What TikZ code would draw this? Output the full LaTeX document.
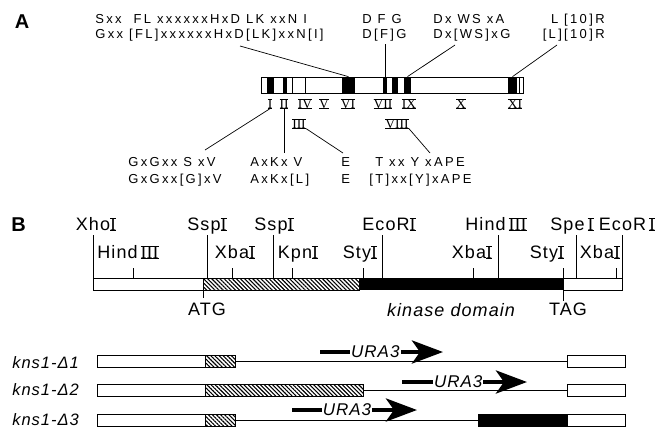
\documentclass[tikz,border=0pt]{standalone}
\usepackage{fontspec}
\setmainfont{Liberation Sans}[LetterSpace=6]
\newfontfamily\seqfont{Liberation Sans}[LetterSpace=18]
\newfontfamily\numfont{Liberation Serif}
\usetikzlibrary{arrows.meta,patterns.meta}
\newcommand\rn[1]{{\numfont\setbox0\hbox{#1}\rlap{\rule[-0.3pt]{\wd0}{0.8pt}}\rlap{\rule[\dimexpr\ht0-0.5pt\relax]{\wd0}{0.8pt}}\box0}}
\newcommand\bgap{\hspace*{0.46em}}

\begin{document}
\begin{tikzpicture}[x=1pt,y=-1pt,>=Latex,line width=0.7pt,
  panel/.style={font=\bfseries\fontsize{20}{22}\selectfont,inner sep=0pt,anchor=base},
  seq/.style={font=\seqfont\fontsize{13}{15}\selectfont,inner sep=0pt,anchor=base west},
  num/.style={font=\fontsize{13.5}{15}\selectfont,inner sep=0pt,anchor=base},
  blk/.style={fill=black,inner sep=0pt,minimum height=16pt},
  site/.style={font=\fontsize{18}{20}\selectfont,inner sep=0pt,anchor=base},
  strain/.style={font=\itshape\fontsize{16.5}{18}\selectfont,inner sep=0pt,anchor=base west},
  box/.style={draw,inner sep=0pt,minimum height=12pt},
  hatch/.style={pattern={Lines[angle=-45,distance=2.9pt,line width=1.1pt]}},
  ura/.style={line width=4.5pt,-{Stealth[length=31pt,width=23pt,inset=8pt]}},
  ulabel/.style={fill=white,inner sep=1pt,font=\itshape\fontsize{17}{18}\selectfont}
]
  \useasboundingbox (0,0) rectangle (659,432);

  \node[panel] (labA) at (22,28) {A};
  \node[seq] (s6a) at (95,23) {Sxx \bgap FL\bgap xxxxxxHxD\bgap LK\bgap xxN\bgap I};
  \node[seq] (s6b) at (95,38) {Gxx [FL]xxxxxxHxD[LK]xxN[I]};
  \node[seq] (s7a) at (362,23) {D\bgap F\bgap G};
  \node[seq] (s7b) at (362,38) {D[F]G};
  \node[seq] (s9a) at (433,23) {Dx\bgap WS\bgap xA};
  \node[seq] (s9b) at (433,38) {Dx[WS]xG};
  \node[seq,anchor=base east] (s11a) at (605,23) {\bgap L\bgap [10]R};
  \node[seq,anchor=base east] (s11b) at (605,38) {[L][10]R};

  \node[draw,inner sep=0pt,minimum width=262pt,minimum height=16pt] (barA) at (392,85) {};
  \draw (292,77) -- (292,93) (305,77) -- (305,93) (519,77) -- (519,93);
  \node[blk,minimum width=7pt] (b1) at (270.5,85) {};
  \node[blk,minimum width=4pt] (b2) at (285,85) {};
  \node[blk,minimum width=13pt] (b6) at (348.5,85) {};
  \node[blk,minimum width=4pt] (b7) at (385,85) {};
  \node[blk,minimum width=6pt] (b8) at (395,85) {};
  \node[blk,minimum width=7pt] (b9) at (407.5,85) {};
  \node[blk,minimum width=9pt] (b11) at (512.5,85) {};

  \node[num] (n1) at (270,108) {\rn{I}};
  \node[num] (n2) at (284,108) {\rn{II}};
  \node[num] (n4) at (305,108) {\rn{IV}};
  \node[num] (n5) at (324,108) {\rn{V}};
  \node[num] (n6) at (348,108) {\rn{VI}};
  \node[num] (n7) at (383,108) {\rn{VII}};
  \node[num] (n9) at (409,108) {\rn{IX}};
  \node[num] (n10) at (461,108) {\rn{X}};
  \node[num] (n11) at (515,108) {\rn{XI}};
  \node[num] (n3) at (299,128) {\rn{III}};
  \node[num] (n8) at (397,128) {\rn{VIII}};

  \node[seq] (s1a) at (128,166) {GxGxx\bgap S\bgap xV};
  \node[seq] (s1b) at (128,183) {GxGxx[G]xV};
  \node[seq] (s2a) at (250,166) {AxKx\bgap V};
  \node[seq] (s2b) at (250,183) {AxKx[L]};
  \node[seq] (s3a) at (341,166) {E};
  \node[seq] (s3b) at (341,183) {E};
  \node[seq] (s8a) at (369,166) {\bgap T\bgap xx\bgap Y\bgap xAPE};
  \node[seq] (s8b) at (369,183) {[T]xx[Y]xAPE};

  \coordinate (c6) at (240,46);
  \coordinate (c7) at (385,44);
  \coordinate (c9) at (455,45);
  \coordinate (c11) at (557,45);
  \coordinate (c1) at (205,150);
  \coordinate (c2) at (284,153);
  \coordinate (c3) at (343,153);
  \coordinate (c8) at (430,153);
  \draw (c6) -- (b6.north);
  \draw (c7) -- (b7.north);
  \draw (c9) -- (b9.north);
  \draw (c11) -- (b11.north);
  \draw (n1.south) -- (c1);
  \draw (n2.south) -- (c2);
  \draw (n3.south east) -- (c3);
  \draw (n8.south east) -- (c8);

  \node[panel] (labB) at (18.5,231) {B};
  \draw (93,278) rectangle (203,290);
  \draw[hatch] (203,278) rectangle (359,290);
  \fill (359,278) rectangle (563,290);
  \draw (563,278) rectangle (622,290);

  \coordinate (kXho) at (93,278);
  \coordinate (kHin1) at (133,278);
  \coordinate (kSsp1) at (207,278);
  \coordinate (kXba1) at (232,278);
  \coordinate (kSsp2) at (273,278);
  \coordinate (kKpn) at (292,278);
  \coordinate (kSty1) at (363,278);
  \coordinate (kEco1) at (382,278);
  \coordinate (kXba2) at (473,278);
  \coordinate (kHin2) at (498,278);
  \coordinate (kSty2) at (563,278);
  \coordinate (kSpe) at (576,278);
  \coordinate (kXba3) at (616,278);
  \coordinate (kEco2) at (622,278);
  \draw (kXho) -- ++(0,-43) (kSsp1) -- ++(0,-43) (kSsp2) -- ++(0,-43) (kEco1) -- ++(0,-43)
        (kHin2) -- ++(0,-43) (kSpe) -- ++(0,-43) (kEco2) -- ++(0,-43);
  \draw (kHin1) -- ++(0,-10) (kXba1) -- ++(0,-10) (kKpn) -- ++(0,-10) (kSty1) -- ++(0,-10)
        (kXba2) -- ++(0,-10) (kSty2) -- ++(0,-10) (kXba3) -- ++(0,-10);

  \node[site] (xho) at (96,230) {Xho\rn{I}};
  \node[site] (ssp1) at (207,230) {Ssp\rn{I}};
  \node[site] (ssp2) at (274,230) {Ssp\rn{I}};
  \node[site] (eco1) at (389,230) {EcoR\rn{I}};
  \node[site] (hin2) at (496,230) {Hind\,\rn{III}};
  \node[site] (spe) at (572,230) {Spe\,\rn{I}};
  \node[site] (eco2) at (627,230) {EcoR\,\rn{I}};
  \node[site] (hin1) at (128,258) {Hind\,\rn{III}};
  \node[site] (xba1) at (235,258) {Xba\rn{I}};
  \node[site] (kpn) at (298,258) {Kpn\rn{I}};
  \node[site] (sty1) at (360,258) {Sty\rn{I}};
  \node[site] (xba2) at (472,258) {Xba\rn{I}};
  \node[site] (sty2) at (547,258) {Sty\rn{I}};
  \node[site] (xba3) at (600,258) {Xba\rn{I}};

  \coordinate (kAtg) at (203,290);
  \coordinate (kTag) at (563,290);
  \draw (kAtg) -- ++(0,8) (kTag) -- ++(0,11);
  \node[site] (atg) at (207,315) {ATG};
  \node[site,font=\itshape\fontsize{18}{20}\selectfont] (kin) at (451,316) {kinase domain};
  \node[site] (tag) at (568,315) {TAG};

  \node[strain] (d1) at (12,368) {kns1-Δ1};
  \node[strain] (d2) at (12,395) {kns1-Δ2};
  \node[strain] (d3) at (12,425) {kns1-Δ3};

  \node[box,minimum width=108pt] (d1a) at (151,361) {};
  \node[box,minimum width=30pt,hatch] (d1b) at (220,361) {};
  \node[box,minimum width=58pt] (d1c) at (596,361) {};
  \draw (d1b.east) -- (d1c.west);

  \node[box,minimum width=108pt] (d2a) at (151,390) {};
  \node[box,minimum width=158pt,hatch] (d2b) at (284,390) {};
  \node[box,minimum width=58pt] (d2c) at (596,390) {};
  \draw (d2b.east) -- (d2c.west);

  \node[box,minimum width=108pt] (d3a) at (151,420) {};
  \node[box,minimum width=30pt,hatch] (d3b) at (220,420) {};
  \node[box,minimum width=89pt,fill=black] (d3k) at (522.5,420) {};
  \node[box,minimum width=58pt] (d3c) at (596,420) {};
  \draw (d3b.east) -- (d3k.west);

  \coordinate (u1s) at (320,352);
  \coordinate (u1e) at (443,352);
  \coordinate (u2s) at (402,382);
  \coordinate (u2e) at (527,382);
  \coordinate (u3s) at (292,410);
  \coordinate (u3e) at (417,410);
  \draw[ura] (u1s) -- (u1e) node[pos=0.45,ulabel] {URA3};
  \draw[ura] (u2s) -- (u2e) node[pos=0.45,ulabel] {URA3};
  \draw[ura] (u3s) -- (u3e) node[pos=0.44,ulabel] {URA3};
\end{tikzpicture}
\end{document}
